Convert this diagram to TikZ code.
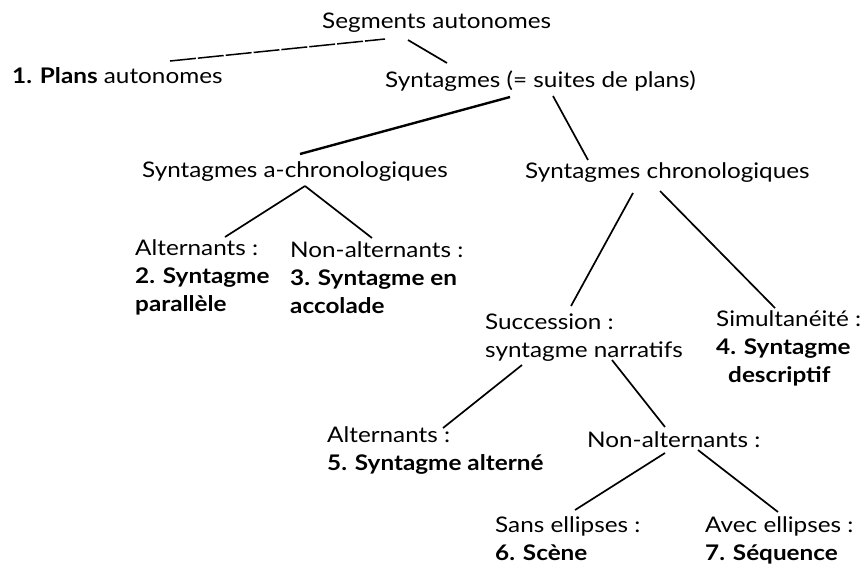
\documentclass[tikz,border=0pt]{standalone}
\usepackage{fontspec}
\setmainfont{Lato}[FakeStretch=1.13]
\usepackage{tikz}
\pgfdeclarelayer{edgelayer}
\pgfdeclarelayer{nodelayer}
\pgfsetlayers{edgelayer,nodelayer,main}
\tikzstyle{none}=[inner sep=0pt]
\tikzstyle{term}=[anchor=base west, inner sep=0pt, align=left, font=\fontsize{21.5}{28}\selectfont]
\tikzstyle{branch}=[-, line width=1.7pt]
\tikzstyle{rough}=[-, line width=1.5pt, dash pattern=on 26pt off 2pt]

\begin{document}
\begin{tikzpicture}[x=1pt, y=-1pt]
	\useasboundingbox (0,0) rectangle (862,566);
	% base of a block = base of its last line
	\begin{pgfonlayer}{nodelayer}
		\node [style=term] (S) at (322, 28) {Segments autonomes};
		\node [style=term] (P) at (12, 83) {\textbf{1. Plans} autonomes};
		\node [style=term] (Sy) at (385, 87) {Syntagmes (= suites de plans)};
		\node [style=term] (Ac) at (142, 177) {Syntagmes a-chronologiques};
		\node [style=term] (C) at (525, 178) {Syntagmes chronologiques};

		\node [style=term] (A1) at (135, 311) {Alternants :\\ \textbf{2. Syntagme}\\ \textbf{parallèle}};
		\node [style=term] (N1) at (290, 313) {Non-alternants :\\ \textbf{3. Syntagme en}\\ \textbf{accolade}};
		\node [style=term] (Su) at (485, 357) {Succession :\\ syntagme narratifs};
		\node [style=term] (Si) at (716, 382) {Simultanéité :\\ \textbf{4. Syntagme}\\ \hspace*{12pt}\textbf{descriptif}};

		\node [style=term] (A2) at (327, 470) {Alternants :\\ \textbf{5. Syntagme alterné}};
		\node [style=term] (N2) at (587, 447) {Non-alternants :};
		\node [style=term] (Sa) at (495, 560) {Sans ellipses :\\ \textbf{6. Scène}};
		\node [style=term] (Av) at (705, 560) {Avec ellipses :\\ \textbf{7. Séquence}};

		% line ends
		\node [style=none] (Pr) at (170, 61) {};
		\node [style=none] (Sl) at (385, 39) {};
		\node [style=none] (Sr) at (408, 40) {};
		\node [style=none] (Syt) at (447, 63) {};
		\node [style=none] (Syl) at (510, 97) {};
		\node [style=none] (Syr) at (553, 96) {};
		\node [style=none] (Act) at (300, 154) {};
		\node [style=none] (Ct) at (588, 160) {};
		\node [style=none] (Acb) at (305, 186) {};
		\node [style=none] (A1t) at (225, 237) {};
		\node [style=none] (N1t) at (372, 238) {};
		\node [style=none] (Cbl) at (633, 193) {};
		\node [style=none] (Cbr) at (660, 191) {};
		\node [style=none] (Sut) at (571, 306) {};
		\node [style=none] (Sit) at (775, 308) {};
		\node [style=none] (Sul) at (522, 365) {};
		\node [style=none] (Sur) at (612, 360) {};
		\node [style=none] (A2t) at (443, 428) {};
		\node [style=none] (N2t) at (665, 427) {};
		\node [style=none] (N2l) at (665, 453) {};
		\node [style=none] (N2r) at (698, 450) {};
		\node [style=none] (Sat) at (575, 510) {};
		\node [style=none] (Avt) at (778, 512) {};
	\end{pgfonlayer}
	\begin{pgfonlayer}{edgelayer}
		\draw [style=rough] (Pr.center) to (Sl.center);
		\draw [style=branch] (Sr.center) to (Syt.center);
		\draw [style=branch, line width=2.4pt] (Syl.center) to (Act.center);
		\draw [style=branch] (Syr.center) to (Ct.center);
		\draw [style=branch] (Acb.center) to (A1t.center);
		\draw [style=branch] (Acb.center) to (N1t.center);
		\draw [style=branch] (Cbl.center) to (Sut.center);
		\draw [style=branch] (Cbr.center) to (Sit.center);
		\draw [style=branch] (Sul.center) to (A2t.center);
		\draw [style=branch] (Sur.center) to (N2t.center);
		\draw [style=branch] (N2l.center) to (Sat.center);
		\draw [style=branch] (N2r.center) to (Avt.center);
	\end{pgfonlayer}
\end{tikzpicture}
\end{document}
